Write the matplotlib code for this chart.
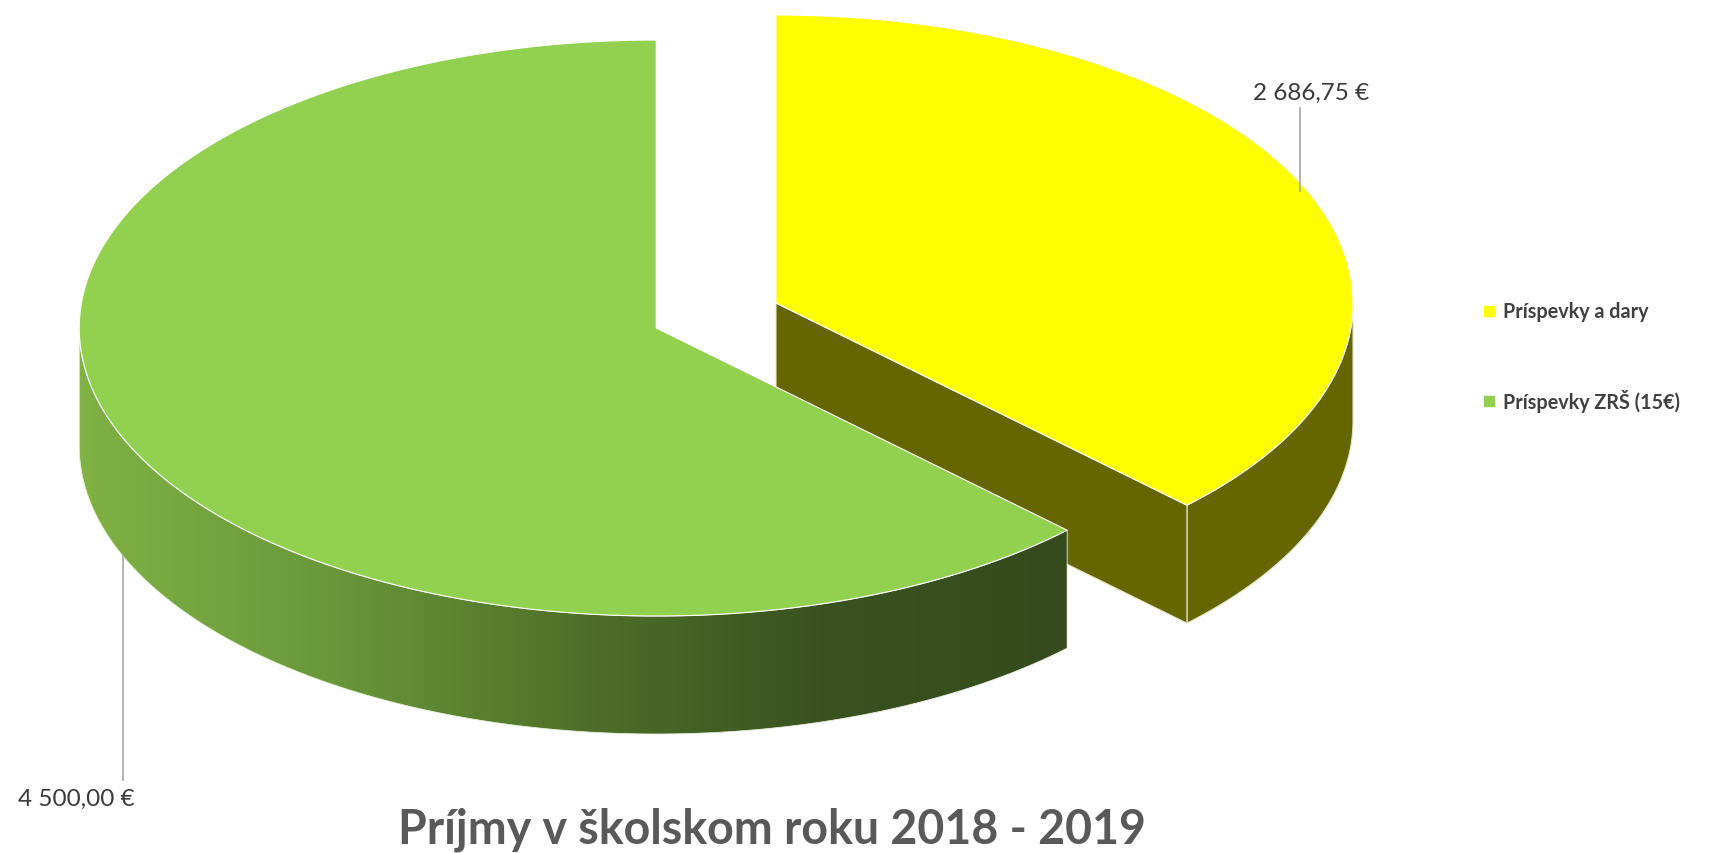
import numpy as np
import matplotlib
matplotlib.use("Agg")
import matplotlib.pyplot as plt
from matplotlib.patches import Polygon
from matplotlib.colors import LinearSegmentedColormap

# data
labels = ["Príspevky a dary", "Príspevky ZRŠ (15€)"]
values = [2686.75, 4500.00]
value_texts = ["2 686,75 €", "4 500,00 €"]
explode = [0.0, 0.225]
top_colors = ["#ffff00", "#92d050"]
side_colors = ["#666600", None]   # None -> gradient
title = "Príjmy v školskom roku 2018 - 2019"

W, H = 1713, 854
fig = plt.figure(figsize=(W / 100, H / 100), dpi=100)
ax = fig.add_axes([0, 0, 1, 1])
ax.set_xlim(0, W)
ax.set_ylim(H, 0)
ax.axis("off")

cx0, cy0 = 776, 304
rx, ry = 577, 288
depth = 118


def pt(cx, cy, th, z=0.0):
    t = np.radians(th)
    return cx + rx * np.sin(t), cy - ry * np.cos(t) + z


def arc(cx, cy, a0, a1, z=0.0, n=200):
    th = np.linspace(a0, a1, n)
    x, y = pt(cx, cy, th, z)
    return np.column_stack([x, y])


total = sum(values)
angles = np.cumsum([0] + [v / total * 360 for v in values])
slices = []
for i, v in enumerate(values):
    a0, a1 = angles[i], angles[i + 1]
    mid = np.radians((a0 + a1) / 2)
    cx = cx0 + explode[i] * rx * np.sin(mid)
    cy = cy0 - explode[i] * ry * np.cos(mid)
    slices.append((cx, cy, a0, a1))

green_cmap = LinearSegmentedColormap.from_list(
    "g", ["#80b245", "#6a983a", "#4f7129", "#3a5220", "#354b1d"])

for i, (cx, cy, a0, a1) in enumerate(slices):
    # outer side, visible part between 90 and 270 deg
    s0, s1 = max(a0, 90), min(a1, 270)
    if s1 > s0:
        top = arc(cx, cy, s0, s1)
        bot = arc(cx, cy, s0, s1, depth)[::-1]
        verts = np.vstack([top, bot])
        if side_colors[i] is None:
            poly = Polygon(verts, closed=True, facecolor="none", edgecolor="none")
            ax.add_patch(poly)
            xmin, xmax = verts[:, 0].min(), verts[:, 0].max()
            ymin, ymax = verts[:, 1].min(), verts[:, 1].max()
            grad = np.linspace(0, 1, 256)[None, :]
            im = ax.imshow(grad, cmap=green_cmap, aspect="auto",
                           extent=[xmin, xmax, ymax, ymin], zorder=1)
            im.set_clip_path(poly)
            ax.add_patch(Polygon(verts, closed=True, facecolor="none",
                                 edgecolor="#e8f0dc", lw=0.6, zorder=1.5))
        else:
            ax.add_patch(Polygon(verts, closed=True, facecolor=side_colors[i],
                                 edgecolor="#e6e6c8", lw=0.8, zorder=0.8))
    # radial cut face at end angle (faces viewer when 90 < a1 < 270)
    if 90 < a1 < 270 and side_colors[i] is not None:
        ex, ey = pt(cx, cy, a1)
        face = [(cx, cy), (ex, ey), (ex, ey + depth), (cx, cy + depth)]
        ax.add_patch(Polygon(face, closed=True, facecolor=side_colors[i],
                             edgecolor="#e6e6c8", lw=0.8, zorder=0.9))
    # top face
    verts = np.vstack([[cx, cy], arc(cx, cy, a0, a1)])
    ax.add_patch(Polygon(verts, closed=True, facecolor=top_colors[i],
                         edgecolor="white", lw=0.8, zorder=2))

# data labels with leader lines
ax.plot([1300, 1300], [109, 192], color="#a6a6a6", lw=1.2, zorder=3)
ax.text(1311, 93, value_texts[0], ha="center", va="center", fontsize=17.5,
        color="#3a3a3a", family="Lato")
ax.plot([123, 123], [557, 781], color="#a6a6a6", lw=1.2, zorder=3)
ax.text(76, 799, value_texts[1], ha="center", va="center", fontsize=17.5,
        color="#3a3a3a", family="Lato")

# legend
for i, (lab, yy) in enumerate(zip(labels, [312, 402])):
    ax.scatter([1489], [yy], marker="s", s=45, color=top_colors[i], zorder=3)
    ax.text(1503, yy, lab, ha="left", va="center", fontsize=14.2,
            fontweight="bold", color="#404040", family="Lato")

ax.text(772, 830, title, ha="center", va="center", fontsize=33.5,
        fontweight="bold", color="#595959", family="Lato")

fig.savefig("out.png", dpi=100)
